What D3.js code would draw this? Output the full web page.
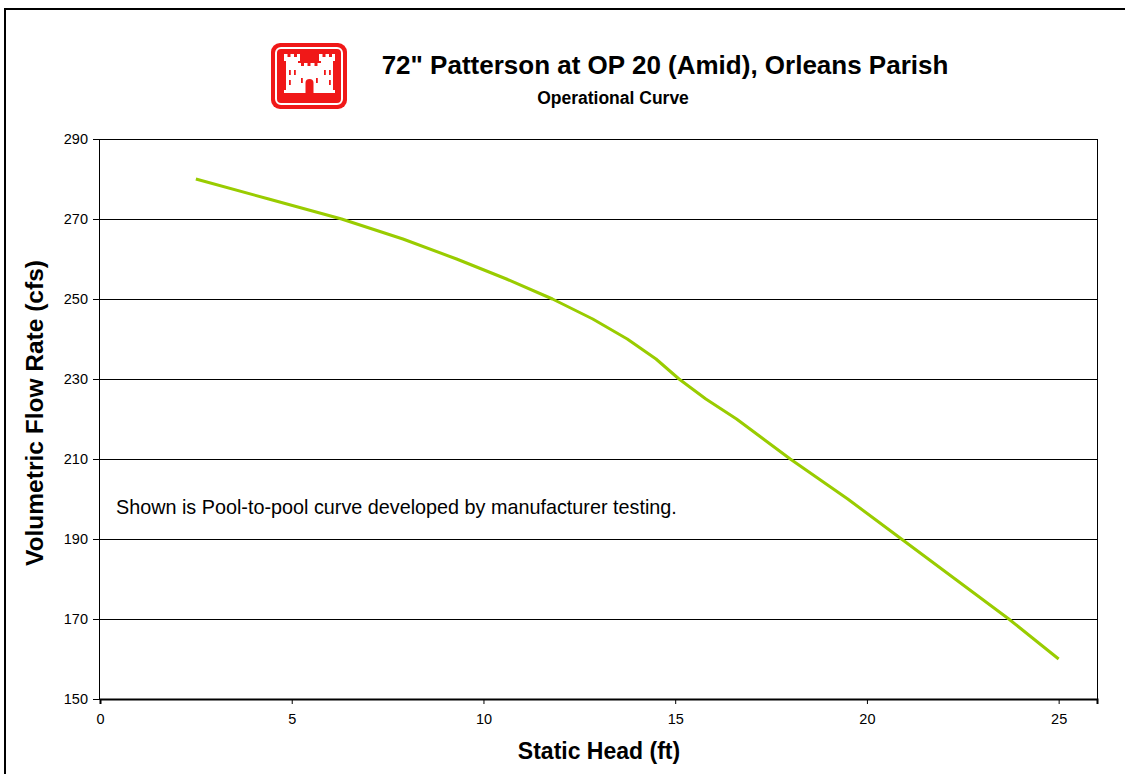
<!DOCTYPE html>
<html><head><meta charset="utf-8">
<script src="https://cdn.jsdelivr.net/npm/d3@7"></script>
<style>body{margin:0;background:#fff;}svg{display:block;font-family:Arial,"Liberation Sans",sans-serif;}</style>
</head><body>
<svg id="c" width="1125" height="774"></svg>
<script>
const headFt = [2.5, 4.4, 6.3, 7.9, 9.3, 10.6, 11.8, 12.85, 13.75, 14.5, 15.1, 15.8, 16.6, 17.3, 18.0, 18.75, 19.5, 20.2, 20.9, 21.6, 22.3, 23.0, 23.7, 24.35, 25.0];
const flowCfs = [280, 275, 270, 265, 260, 255, 250, 245, 240, 235, 230, 225, 220, 215, 210, 205, 200, 195, 190, 185, 180, 175, 170, 165, 160];
const xTicks = [0, 5, 10, 15, 20, 25];
const yTicks = [150, 170, 190, 210, 230, 250, 270, 290];
const title = '72" Patterson at OP 20 (Amid), Orleans Parish';
const subtitle = "Operational Curve";
const note = "Shown is Pool-to-pool curve developed by manufacturer testing.";

const FONT = "Arial, Liberation Sans, sans-serif";
const svg = d3.select("#c");
// outer frame
svg.append("rect").attr("x",5).attr("y",9).attr("width",1200).attr("height",900)
  .attr("fill","none").attr("stroke","#000").attr("stroke-width",2);

const L=99, R=1097, T=139, B=699;
const x = d3.scaleLinear().domain([0,26]).range([L+1, R]);
const y = d3.scaleLinear().domain([150,290]).range([B, T]);

// grid
svg.append("g").selectAll("line").data(yTicks.filter(v=>v>150&&v<290)).join("line")
  .attr("x1",L).attr("x2",R).attr("y1",d=>y(d)).attr("y2",d=>y(d))
  .attr("stroke","#000").attr("stroke-width",1).attr("shape-rendering","crispEdges");
// plot border
svg.append("rect").attr("x",L).attr("y",T).attr("width",R-L).attr("height",B-T)
  .attr("fill","none").attr("stroke","#000").attr("stroke-width",1).attr("shape-rendering","crispEdges");

const ya = svg.append("g").attr("transform",`translate(${L},0)`)
  .call(d3.axisLeft(y).tickValues(yTicks).tickSize(6).tickPadding(5));
ya.select(".domain").remove();
ya.attr("font-size",null).attr("font-family",null);
ya.selectAll("text").style("font-size","14.5px").attr("fill","#000").style("font-family",FONT);

const xa = svg.append("g").attr("transform",`translate(0,${B})`)
  .call(d3.axisBottom(x).tickValues(xTicks).tickSize(5).tickPadding(10));
xa.select(".domain").attr("stroke-width",2);
xa.attr("font-size",null).attr("font-family",null);
xa.selectAll("text").style("font-size","14.5px").attr("fill","#000").style("font-family",FONT);

// curve
const pts = headFt.map((h,i)=>[h,flowCfs[i]]);
svg.append("path").datum(pts)
  .attr("d", d3.line().x(d=>x(d[0])).y(d=>y(d[1])))
  .attr("fill","none").attr("stroke","#99cc00").attr("stroke-width",3).attr("stroke-linejoin","round");

// texts
svg.append("text").attr("x",665).attr("y",74).attr("text-anchor","middle")
  .style("font-size","26px").attr("font-weight","bold").text(title);
svg.append("text").attr("x",613).attr("y",104).attr("text-anchor","middle")
  .style("font-size","17.5px").attr("font-weight","bold").text(subtitle);
svg.append("text").attr("x",116).attr("y",514).style("font-size","19.8px").text(note);
svg.append("text").attr("x",599).attr("y",759).attr("text-anchor","middle")
  .style("font-size","23px").attr("font-weight","bold").text("Static Head (ft)");
svg.append("text").attr("transform","translate(43,413) rotate(-90)").attr("text-anchor","middle")
  .style("font-size","24.5px").attr("font-weight","bold").text("Volumetric Flow Rate (cfs)");

// logo
const RED = "#f01818";
const lg = svg.append("g").attr("transform","translate(271,43)");
lg.append("rect").attr("width",76).attr("height",66).attr("rx",9).attr("fill",RED);
lg.append("rect").attr("x",5).attr("y",5).attr("width",66).attr("height",56).attr("rx",5)
  .attr("fill","none").attr("stroke","#fff").attr("stroke-width",2);
const W = (a,b,c,d,f)=>lg.append("rect").attr("x",a).attr("y",b).attr("width",c).attr("height",d).attr("fill",f);
// towers
W(13,11,16,7,"#fff"); W(15,18,12,32,"#fff");
W(48,11,16,7,"#fff"); W(50,18,12,32,"#fff");
// middle wall
W(27,20,23,30,"#fff");
W(13,47,51,3,"#fff");
// crenel notches
[[16.5,11],[23,11],[51.5,11],[58,11],[30,20],[36.5,20],[43.5,20]].forEach(p=>W(p[0],p[1],3,3,RED));
// door
lg.append("path").attr("d","M34.5,50 v-10 a4,4 0 0 1 8,0 v10 z").attr("fill",RED);
// windows
[[18,27],[23,27],[53,27],[58,27],[30,35],[45,35],[18,37],[58,37]].forEach(p=>W(p[0],p[1],1.8,5,RED));
</script>
</body></html>
